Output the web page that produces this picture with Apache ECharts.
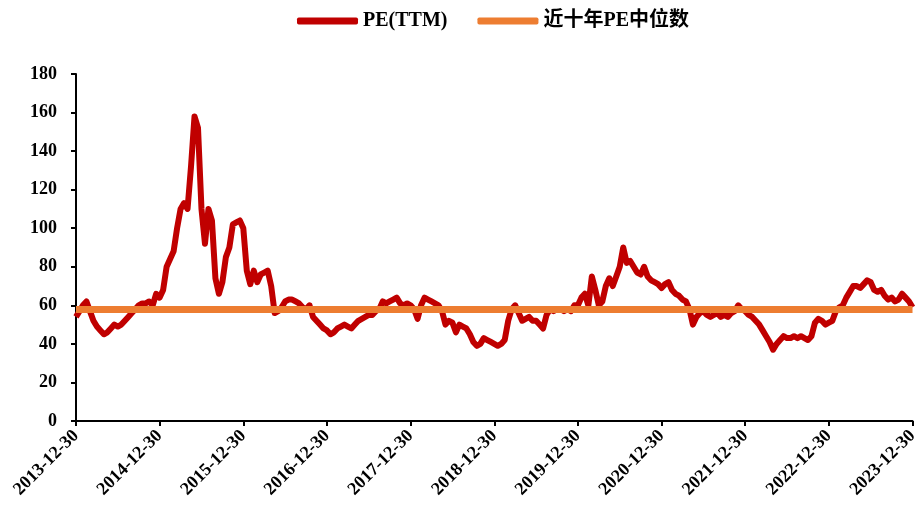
<!DOCTYPE html>
<html>
<head>
<meta charset="utf-8">
<script src="https://cdn.jsdelivr.net/npm/echarts@6/dist/echarts.min.js"></script>
<style>
  html, body { margin: 0; padding: 0; background: #fff; }
  #chart { width: 921px; height: 514px; }
</style>
</head>
<body>
<div id="chart"></div>
<script>
// year-end labels shown on the x axis
const yearLabels = ['2013-12-30', '2014-12-30', '2015-12-30', '2016-12-30', '2017-12-30',
  '2018-12-30', '2019-12-30', '2020-12-30', '2021-12-30', '2022-12-30', '2023-12-30'];

const pe2014 = [54, 57, 60, 62, 57, 52, 49, 47, 45, 46, 48, 50, 49, 50, 52, 54, 56, 58, 60, 61, 61, 62, 60, 66];
const pe2015 = [64, 68, 80, 84, 88, 100, 110, 113, 110, 132, 158, 152, 110, 92, 110, 104, 74, 66, 72, 85, 90, 102, 103, 104];
const pe2016 = [100, 78, 71, 78, 72, 76, 77, 78, 70, 56, 57, 59, 62, 63, 63, 62, 61, 59, 58, 60, 54, 52, 50, 48];
const pe2017 = [47, 45, 46, 48, 49, 50, 49, 48, 50, 52, 53, 54, 55, 55, 57, 58, 62, 61, 62, 63, 64, 61, 60, 61];
const pe2018 = [60, 58, 53, 60, 64, 63, 62, 61, 60, 57, 50, 52, 51, 46, 50, 49, 48, 45, 41, 39, 40, 43, 42, 41];
const pe2019 = [40, 39, 40, 42, 52, 58, 60, 56, 52, 53, 54, 52, 52, 50, 48, 55, 58, 57, 58, 58, 57, 58, 57, 60];
const pe2020 = [60, 64, 66, 60, 75, 68, 60, 62, 70, 74, 70, 75, 80, 90, 82, 83, 80, 77, 76, 80, 75, 73, 72, 71];
const pe2021 = [69, 71, 72, 68, 66, 65, 63, 62, 58, 50, 54, 56, 57, 55, 54, 55, 56, 54, 55, 54, 56, 57, 60, 58];
const pe2022 = [57, 55, 54, 52, 50, 47, 44, 41, 37, 40, 42, 44, 43, 43, 44, 43, 44, 43, 42, 44, 51, 53, 52, 50];
const pe2023 = [51, 52, 57, 59, 60, 64, 67, 70, 70, 69, 71, 73, 72, 68, 67, 68, 65, 63, 64, 62, 63, 66, 64, 62, 59];

const medianPE = 58;

// dates: start, then 15th and month end for each month
const dates = [yearLabels[0]];
for (let y = 2014; y <= 2023; y++) {
  for (let m = 1; m <= 12; m++) {
    const mm = String(m).padStart(2, '0');
    dates.push(y + '-' + mm + '-15');
    dates.push(y + '-' + mm + '-' + (m === 2 ? '28' : '30'));
  }
}
const peValues = [].concat(pe2014, pe2015, pe2016, pe2017, pe2018, pe2019, pe2020, pe2021, pe2022, pe2023);

const font = '"Liberation Serif", "Noto Sans CJK SC", serif';
const isYearEnd = (idx, val) => yearLabels.indexOf(val) !== -1;

const chart = echarts.init(document.getElementById('chart'));
chart.setOption({
  animation: false,
  legend: {
    top: 6,
    left: 292,
    itemWidth: 61,
    itemHeight: 7,
    itemGap: 30,
    icon: 'roundRect',
    textStyle: { fontFamily: font, fontWeight: 'bold', fontSize: 20, color: '#000' },
    data: ['PE(TTM)', '近十年PE中位数']
  },
  grid: { left: 76, right: 3, top: 74, bottom: 93, containLabel: false },
  xAxis: {
    type: 'category',
    boundaryGap: false,
    data: dates,
    axisLine: { lineStyle: { color: '#000', width: 2 } },
    axisTick: { interval: isYearEnd, length: 5, lineStyle: { color: '#000', width: 2 } },
    axisLabel: {
      interval: isYearEnd,
      rotate: 45,
      color: '#000',
      fontFamily: font,
      fontWeight: 'bold',
      fontSize: 18,
      margin: 12
    },
    splitLine: { show: false }
  },
  yAxis: {
    type: 'value',
    min: 0,
    max: 180,
    interval: 20,
    axisLine: { show: true, lineStyle: { color: '#000', width: 2 } },
    axisTick: { show: true, length: 5, lineStyle: { color: '#000', width: 2 } },
    axisLabel: { color: '#000', fontFamily: font, fontWeight: 'bold', fontSize: 18, margin: 19 },
    splitLine: { show: false }
  },
  series: [
    {
      name: 'PE(TTM)',
      type: 'line',
      data: peValues,
      symbol: 'none',
      color: '#C00000',
      lineStyle: { color: '#C00000', width: 6, join: 'round' },
      z: 2
    },
    {
      name: '近十年PE中位数',
      type: 'line',
      data: [],
      symbol: 'none',
      color: '#ED7D31',
      lineStyle: { color: '#ED7D31', width: 7 },
      z: 3,
      markLine: {
        silent: true,
        symbol: 'none',
        label: { show: false },
        lineStyle: { color: '#ED7D31', width: 7, type: 'solid' },
        data: [{ yAxis: medianPE }]
      }
    }
  ]
});
</script>
</body>
</html>
